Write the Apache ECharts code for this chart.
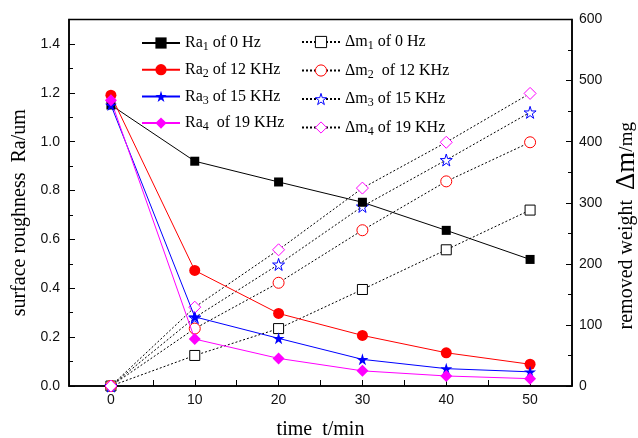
<!DOCTYPE html>
<html>
<head>
<meta charset="utf-8">
<script src="https://cdn.jsdelivr.net/npm/echarts@6/dist/echarts.min.js"></script>
<style>
  html, body { margin: 0; padding: 0; background: #fff; }
  #chart { width: 638px; height: 438px; }
</style>
</head>
<body>
<div id="chart"></div>
<script>
// time (min)
const times = [0, 10, 20, 30, 40, 50]

// surface roughness Ra (um)
const ra1 = [1.15, 0.92, 0.835, 0.752, 0.637, 0.518]
const ra2 = [1.19, 0.473, 0.297, 0.207, 0.136, 0.089]
const ra3 = [1.15, 0.283, 0.195, 0.109, 0.071, 0.058]
const ra4 = [1.17, 0.192, 0.113, 0.062, 0.041, 0.030]

// removed weight (mg)
const dm1 = [0, 50, 94, 158, 223, 288]
const dm2 = [0, 94, 169, 255, 335, 399]
const dm3 = [0, 112, 199, 294, 370, 448]
const dm4 = [0, 129, 223, 324, 399, 479]

const raNames = ['Ra1 of 0 Hz', 'Ra2 of 12 KHz', 'Ra3 of 15 KHz', 'Ra4  of 19 KHz']
const dmNames = ['Δm1 of 0 Hz', 'Δm2  of 12 KHz', 'Δm3 of 15 KHz', 'Δm4 of 19 KHz']

const colors = ['#000000', '#ff0000', '#0000ff', '#ff00ff']
const starPath = 'path://M50,0 L61,35 L98,35 L68,57 L79,91 L50,70 L21,91 L32,57 L2,35 L39,35 Z'
const serif = 'Liberation Serif'
const sans = 'Liberation Sans'

const pairs = (ys) => times.map((t, i) => [t, ys[i]])

const legendRich = {
  n: { fontFamily: serif, fontSize: 16, color: '#000', lineHeight: 20 },
  s: { fontFamily: serif, fontSize: 12, color: '#000', lineHeight: 13, verticalAlign: 'bottom' }
}
// 'Ra1 of 0 Hz' -> Ra + subscript 1 + rest
const legendFormatter = (name) => {
  const m = name.match(/^(Ra|Δm)(\d)(.*)$/)
  if (!m) return name
  return `{n|${m[1]}}{s|${m[2]}}{n|${m[3]}}`
}

const raSymbols = ['rect', 'circle', starPath, 'diamond']
const raSizes = [9, 11, 12, 12]
const dmSymbols = ['rect', 'circle', starPath, 'diamond']
const dmSizes = [10, 11, 12, 12]

const raSeries = [ra1, ra2, ra3, ra4].map((ys, i) => ({
  name: raNames[i],
  type: 'line',
  xAxisIndex: 0,
  yAxisIndex: 0,
  data: pairs(ys),
  symbol: raSymbols[i],
  symbolSize: raSizes[i],
  color: colors[i],
  itemStyle: { color: colors[i] },
  lineStyle: { color: colors[i], width: 1 },
  z: 3
}))

const dmSeries = [dm1, dm2, dm3, dm4].map((ys, i) => ({
  name: dmNames[i],
  type: 'line',
  xAxisIndex: 0,
  yAxisIndex: 1,
  data: pairs(ys),
  symbol: dmSymbols[i],
  symbolSize: dmSizes[i],
  color: colors[i],
  itemStyle: { color: '#fff', borderColor: colors[i], borderWidth: 1 },
  lineStyle: { color: '#000', width: 1, type: [2, 2] },
  z: 2
}))

const chart = echarts.init(document.getElementById('chart'))

chart.setOption({
  backgroundColor: '#fff',
  animation: false,
  grid: {
    left: 69, right: 66, top: 19.5, bottom: 52,
    outerBoundsMode: 'none',
    show: true, borderColor: '#000', borderWidth: 1.5, backgroundColor: 'transparent'
  },
  legend: [
    {
      data: raNames,
      orient: 'vertical',
      left: 136, top: 30,
      itemWidth: 38, itemHeight: 14, itemGap: 8.7,
      formatter: legendFormatter,
      textStyle: { rich: legendRich }
    },
    {
      data: dmNames,
      orient: 'vertical',
      left: 296, top: 29,
      itemWidth: 38, itemHeight: 14, itemGap: 10.5,
      itemStyle: { borderWidth: 1 },
      formatter: legendFormatter,
      textStyle: { rich: legendRich }
    }
  ],
  xAxis: [
    {
      type: 'value',
      min: -5, max: 55, interval: 5,
      name: 'time  t/min',
      nameLocation: 'middle',
      nameGap: 34,
      nameTextStyle: { fontFamily: serif, fontSize: 20, color: '#000' },
      axisLine: { onZero: false, lineStyle: { color: '#000', width: 1.5 } },
      axisTick: { inside: true, length: 6, lineStyle: { color: '#000' } },
      axisLabel: {
        margin: 7,
        fontFamily: sans, fontSize: 14, color: '#111',
        formatter: (v) => (v >= 0 && v <= 50 && v % 10 === 0 ? String(v) : '')
      },
      splitLine: { show: false }
    }
  ],
  yAxis: [
    {
      type: 'value',
      position: 'left',
      min: 0, max: 1.5, interval: 0.2,
      name: 'surface roughness  Ra/um',
      nameLocation: 'middle',
      nameRotate: 90,
      nameGap: 37,
      nameTextStyle: { fontFamily: serif, fontSize: 20, color: '#000', padding: [0, 20, 0, 0] },
      axisLine: { show: true, onZero: false, lineStyle: { color: '#000', width: 1.5 } },
      axisTick: { show: true, inside: true, length: 6, lineStyle: { color: '#000' } },
      minorTick: { show: true, splitNumber: 2, length: 4, lineStyle: { color: '#000' } },
      axisLabel: {
        margin: 9,
        fontFamily: sans, fontSize: 14, color: '#111',
        formatter: (v) => (v > 1.45 ? '' : v.toFixed(1))
      },
      splitLine: { show: false }
    },
    {
      type: 'value',
      position: 'right',
      min: 0, max: 600, interval: 100,
      name: '{a|removed weight  }{b|Δm}{c|/mg}',
      nameLocation: 'middle',
      nameRotate: 90,
      nameGap: 22,
      nameTextStyle: {
        color: '#000',
        padding: [0, 46, 0, 0],
        rich: {
          a: { fontFamily: serif, fontSize: 20, color: '#000' },
          b: { fontFamily: serif, fontSize: 27, color: '#000' },
          c: { fontFamily: serif, fontSize: 19, color: '#000' }
        }
      },
      axisLine: { show: true, onZero: false, lineStyle: { color: '#000', width: 1.5 } },
      axisTick: { show: true, inside: true, length: 6, lineStyle: { color: '#000' } },
      minorTick: { show: true, splitNumber: 2, length: 4, lineStyle: { color: '#000' } },
      axisLabel: { margin: 7, fontFamily: sans, fontSize: 14, color: '#111' },
      splitLine: { show: false }
    }
  ],
  series: [...raSeries, ...dmSeries]
})
</script>
</body>
</html>
